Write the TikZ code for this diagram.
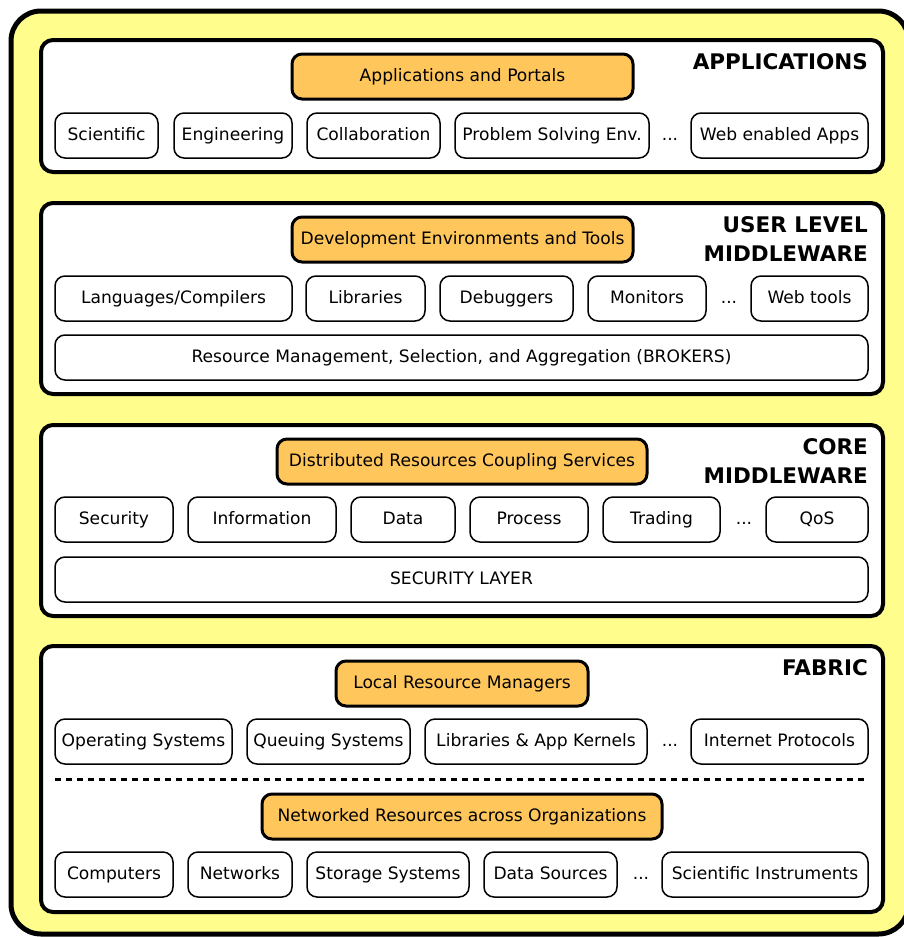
\documentclass[tikz,border=0pt]{standalone}
\usepackage{fontspec}
\setmainfont{DejaVu Sans}
\definecolor{bgyellow}{RGB}{255,253,140}
\definecolor{mgorange}{RGB}{255,198,92}
\tikzstyle{layer}=[draw, line width=4pt, rounded corners=12pt, fill=white, inner sep=0pt]
\tikzstyle{item}=[draw, line width=1.5pt, rounded corners=10pt, fill=white, minimum height=45pt,%
	inner sep=0pt, text height=12.5pt, text depth=3.5pt]
\tikzstyle{head}=[item, line width=3pt, fill=mgorange]
\tikzstyle{dots}=[inner sep=0pt, text height=12.5pt, text depth=3.5pt]
\tikzstyle{title}=[font=\bfseries\fontsize{21.5}{29}\selectfont, align=right, anchor=north east, inner sep=0pt]

\begin{document}
\begin{tikzpicture}[x=1pt, y=-1pt, font=\fontsize{17.1}{20}\selectfont]
	\useasboundingbox (0,0) rectangle (903,937);
	\draw[line width=5pt, rounded corners=30pt, fill=bgyellow] (11,11) rectangle (908.5,934);
	% the four layers
	\node[layer, minimum width=842pt, minimum height=132pt] (applayer) at (462,106) {};
	\node[layer, minimum width=842pt, minimum height=191pt] (userlayer) at (462,298.5) {};
	\node[layer, minimum width=842pt, minimum height=191pt] (corelayer) at (462,520.5) {};
	\node[layer, minimum width=842pt, minimum height=266pt] (fablayer) at (462,779) {};
	\node[title] (apptitle) at (868,53.5) {APPLICATIONS};
	\node[title] (usertitle) at (868,216.5) {USER LEVEL\\MIDDLEWARE};
	\node[title] (coretitle) at (868,438.5) {CORE\\MIDDLEWARE};
	\node[title] (fabtitle) at (868,659.5) {FABRIC};
	% headers
	\node[head, minimum width=341pt] (portals) at (462.5,76.5) {Applications and Portals};
	\node[head, minimum width=341pt] (devtools) at (462.5,239.5) {Development Environments and Tools};
	\node[head, minimum width=370pt] (coupling) at (462,461.5) {Distributed Resources Coupling Services};
	\node[head, minimum width=252pt] (localrm) at (462,683.5) {Local Resource Managers};
	\node[head, minimum width=400pt] (netres) at (462,816.5) {Networked Resources across Organizations};
	% applications
	\foreach \id/\l/\r/\t in {sci/55/158/Scientific, eng/174/292/Engineering,%
		collab/307/440/Collaboration, pse/455/649/Problem Solving Env.,%
		webapps/691/868/Web enabled Apps}
		\node[item, minimum width={\r-\l}] (\id) at ({(\l+\r)/2},135.5) {\t};
	\node[dots] (appdots) at (670,135.5) {...};
	% user level middleware
	\foreach \id/\l/\r/\t in {lang/55/292/{Languages/Compilers}, libs/306/425/Libraries,%
		debug/440/573/Debuggers, monit/588/706/Monitors, webtools/751/868/Web tools}
		\node[item, minimum width={\r-\l}] (\id) at ({(\l+\r)/2},298.5) {\t};
	\node[dots] (userdots) at (729,298.5) {...};
	\node[item, minimum width=813pt] (brokers) at (461.5,357.5)
		{Resource Management, Selection, and Aggregation (BROKERS)};
	% core middleware
	\foreach \id/\l/\r/\t in {secur/55/173/Security, info/188/336/Information,%
		data/351/455/Data, proc/470/588/Process, trade/603/720/Trading, qos/766/868/QoS}
		\node[item, minimum width={\r-\l}] (\id) at ({(\l+\r)/2},519.5) {\t};
	\node[dots] (coredots) at (744,519.5) {...};
	\node[item, minimum width=813pt] (seclayer) at (461.5,579.5) {SECURITY LAYER};
	% fabric
	\foreach \id/\l/\r/\t in {os/55/232/Operating Systems, queue/247/410/Queuing Systems,%
		kernels/425/647/Libraries \& App Kernels, inet/691/868/Internet Protocols}
		\node[item, minimum width={\r-\l}] (\id) at ({(\l+\r)/2},741.5) {\t};
	\node[dots] (fabdots) at (670,741.5) {...};
	\coordinate (dashl) at (55,779);
	\coordinate (dashr) at (868,779);
	\draw[line width=3pt, dash pattern=on 6pt off 5pt] (dashl) -- (dashr);
	\foreach \id/\l/\r/\t in {comp/55/173/Computers, nets/188/292/Networks,%
		store/307/469/Storage Systems, dsrc/484/617/Data Sources,%
		instr/662/868/Scientific Instruments}
		\node[item, minimum width={\r-\l}] (\id) at ({(\l+\r)/2},874.5) {\t};
	\node[dots] (resdots) at (641,874.5) {...};
\end{tikzpicture}
\end{document}
